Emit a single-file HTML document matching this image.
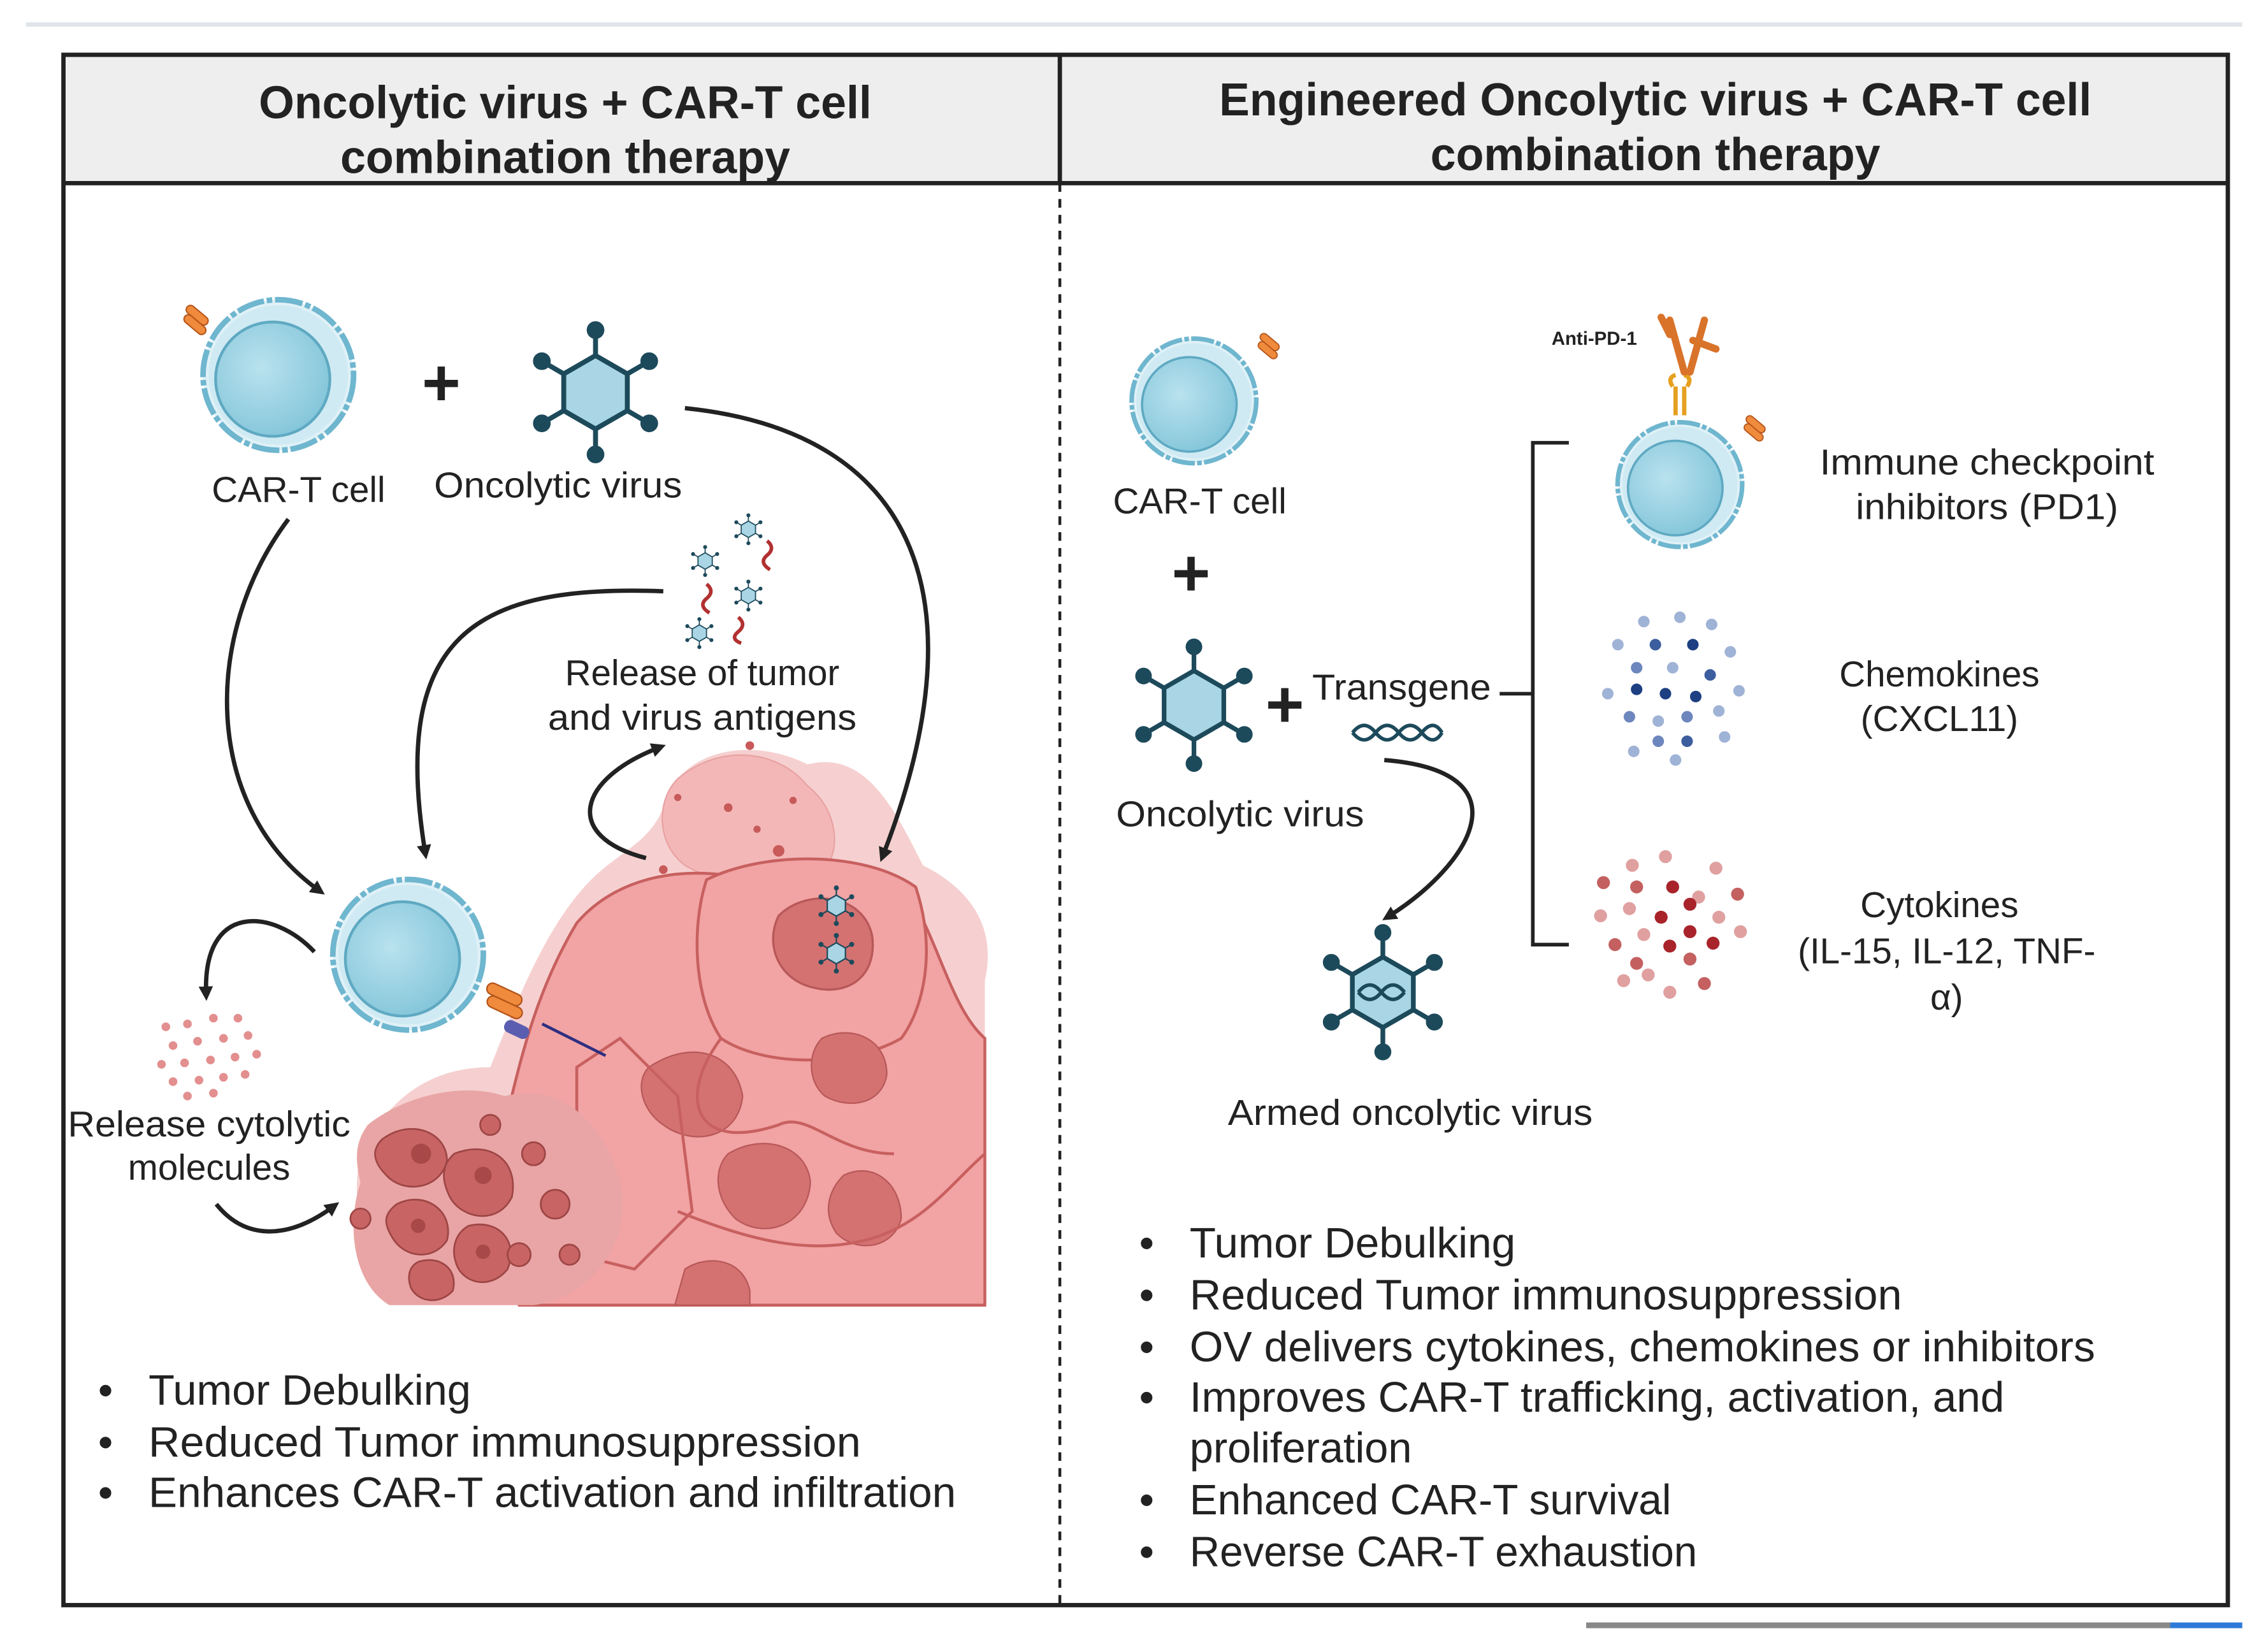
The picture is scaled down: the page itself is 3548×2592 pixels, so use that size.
<!DOCTYPE html>
<html><head><meta charset="utf-8"><style>html,body{margin:0;padding:0;background:#fff}svg{display:block}text{font-family:"Liberation Sans",sans-serif;fill:#222}</style></head>
<body>
<svg width="3548" height="2592" viewBox="0 0 1568 1145.5" xmlns="http://www.w3.org/2000/svg">
<defs>
<marker id="ah" markerWidth="10" markerHeight="10" refX="6" refY="5" orient="auto" markerUnits="userSpaceOnUse" viewBox="0 0 10 10"><path d="M0,0 L10,5 L0,10 z" fill="#222"/></marker>
<radialGradient id="cg" cx="0.4" cy="0.4" r="0.7"><stop offset="0" stop-color="#b9e2ee"/><stop offset="1" stop-color="#7fc3d8"/></radialGradient>
<symbol id="cell" viewBox="-60 -60 120 120" overflow="visible">
<circle r="54" fill="#dff1f7" stroke="#6fb6cf" stroke-width="4" stroke-dasharray="20 2 4 2"/>
<circle r="50" fill="#cfeaf3"/>
<circle cx="-4" cy="3" r="41" fill="url(#cg)" stroke="#5fa9c2" stroke-width="2"/>
</symbol>
<symbol id="virus" viewBox="-50 -50 100 100" overflow="visible">
<g stroke="#1d4a5b" stroke-width="3.5" fill="#1d4a5b">
<line x1="0" y1="-26" x2="0" y2="-44"/><line x1="0" y1="26" x2="0" y2="44"/>
<line x1="22.5" y1="-13" x2="38" y2="-22"/><line x1="22.5" y1="13" x2="38" y2="22"/>
<line x1="-22.5" y1="-13" x2="-38" y2="-22"/><line x1="-22.5" y1="13" x2="-38" y2="22"/>
<circle cx="0" cy="-44" r="4.5"/><circle cx="0" cy="44" r="4.5"/><circle cx="38" cy="-22" r="4.5"/><circle cx="38" cy="22" r="4.5"/><circle cx="-38" cy="-22" r="4.5"/><circle cx="-38" cy="22" r="4.5"/>
</g>
<polygon points="0,-26 22.5,-13 22.5,13 0,26 -22.5,13 -22.5,-13" fill="#a9d5e5" stroke="#1d4a5b" stroke-width="3.5"/>
</symbol>
<symbol id="rec" viewBox="-20 -20 40 40" overflow="visible">
<rect x="-14" y="-10" width="24" height="8" rx="4" fill="#f08a3c" stroke="#b3541a" stroke-width="1.2" transform="rotate(40)"/>
<rect x="-10" y="-2" width="24" height="8" rx="4" fill="#f08a3c" stroke="#b3541a" stroke-width="1.2" transform="rotate(40)"/>
</symbol>
</defs>

<line x1="18" y1="17" x2="1555" y2="17" stroke="#dfe5ea" stroke-width="3"/>
<line x1="1100" y1="1127" x2="1505" y2="1127" stroke="#888" stroke-width="4"/>
<line x1="1505" y1="1127" x2="1555" y2="1127" stroke="#2f7ad8" stroke-width="4"/>

<rect x="44" y="38" width="1501" height="89" fill="#eeeeee"/>
<rect x="44" y="38" width="1501" height="1075" fill="none" stroke="#222" stroke-width="3"/>
<line x1="44" y1="127" x2="1545" y2="127" stroke="#222" stroke-width="3"/>
<line x1="735" y1="38" x2="735" y2="127" stroke="#222" stroke-width="3"/>
<line x1="735" y1="127" x2="735" y2="1113" stroke="#222" stroke-width="2" stroke-dasharray="6 5"/>

<g font-weight="bold" font-size="32" text-anchor="middle">
<text x="392" y="82" textLength="425" lengthAdjust="spacingAndGlyphs">Oncolytic virus + CAR-T cell</text>
<text x="392" y="120" textLength="312" lengthAdjust="spacingAndGlyphs">combination therapy</text>
<text x="1148" y="80" textLength="605" lengthAdjust="spacingAndGlyphs">Engineered Oncolytic virus + CAR-T cell</text>
<text x="1148" y="118" textLength="312" lengthAdjust="spacingAndGlyphs">combination therapy</text>
</g>

<!-- tumor -->
<g>
<path d="M460,560 C470,520 520,510 560,530 C600,520 620,560 640,600 C680,620 690,650 683,680 L683,905 L300,905 C260,890 240,850 250,800 C270,760 300,740 340,740 C360,690 380,640 410,610 C430,590 450,585 460,560 z" fill="#f6d0d0"/>
<path d="M470,540 C500,515 540,520 560,545 C580,560 585,590 570,605 C545,620 500,615 475,600 C455,585 455,555 470,540 z" fill="#f3b7b7" stroke="#e9a2a2"/>
<path d="M400,640 C430,605 480,600 520,610 C560,600 600,590 630,620 C650,650 660,700 683,720 L683,905 L360,905 C340,870 330,820 350,780 C360,740 370,690 400,640 z" fill="#f2a3a4" stroke="#c7605f" stroke-width="2"/>
<path d="M490,610 C530,590 600,590 635,615 C650,660 640,700 625,720 C590,740 530,740 500,720 C480,690 480,640 490,610 z" fill="#f2a3a4" stroke="#c7605f" stroke-width="2"/>
<path d="M540,635 C560,615 600,620 605,650 C608,680 585,690 565,685 C540,680 530,655 540,635 z" fill="#d47272" stroke="#b85858" stroke-width="1.5"/>
<path d="M450,740 C480,720 510,730 515,760 C512,790 480,795 460,780 C445,770 440,750 450,740 z" fill="#d47272" stroke="#b85858"/>
<path d="M505,800 C530,785 560,795 562,820 C560,850 530,860 510,845 C495,830 495,810 505,800 z" fill="#d47272" stroke="#b85858"/>
<path d="M570,720 C590,710 615,720 615,745 C612,765 590,770 572,760 C560,750 560,730 570,720 z" fill="#d47272" stroke="#b85858"/>
<path d="M585,815 C605,805 625,820 625,845 C620,865 595,870 580,855 C570,840 575,825 585,815 z" fill="#d47272" stroke="#b85858"/>
<path d="M475,880 C490,870 515,872 520,895 L520,905 L468,905 z" fill="#d47272" stroke="#b85858"/>
<path d="M400,740 L430,720 L470,760 L480,840 L440,880 L400,870 z" fill="none" stroke="#c7605f" stroke-width="2"/>
<path d="M500,720 C470,760 480,800 540,780 C560,770 580,800 620,800" fill="none" stroke="#c7605f" stroke-width="2"/>
<path d="M470,840 C520,860 560,870 600,860 C640,850 660,820 683,800" fill="none" stroke="#c7605f" stroke-width="2"/>
<path d="M255,780 C280,760 320,750 350,760 C390,750 420,780 430,820 C440,860 410,900 370,905 L270,905 C245,890 240,850 250,820 C245,800 248,790 255,780 z" fill="#e9a5a5"/>
<g fill="#c86464" stroke="#9e4545" stroke-width="1.2">
<path d="M265,790 C285,775 310,785 310,805 C305,825 280,828 268,815 C258,805 258,797 265,790 z"/>
<path d="M315,800 C340,790 360,805 355,830 C345,850 320,845 312,830 C306,818 306,808 315,800 z"/>
<path d="M275,835 C295,825 315,840 310,860 C300,875 280,872 272,858 C266,848 266,842 275,835 z"/>
<path d="M325,850 C345,845 360,860 352,880 C340,895 320,890 316,875 C313,865 316,855 325,850 z"/>
<path d="M290,875 C305,870 318,880 314,895 C305,905 290,903 285,893 C282,885 284,878 290,875 z"/>
<circle cx="370" cy="800" r="8"/><circle cx="385" cy="835" r="10"/><circle cx="250" cy="845" r="7"/><circle cx="340" cy="780" r="7"/><circle cx="360" cy="870" r="8"/><circle cx="395" cy="870" r="7"/>
</g>
<g fill="#a84848"><circle cx="292" cy="800" r="7"/><circle cx="335" cy="815" r="6"/><circle cx="290" cy="850" r="5"/><circle cx="335" cy="868" r="5"/></g>
<g fill="#c85a5a"><circle cx="520" cy="517" r="3"/><circle cx="505" cy="560" r="3"/><circle cx="540" cy="590" r="4"/><circle cx="525" cy="575" r="2.5"/><circle cx="470" cy="553" r="2.5"/><circle cx="460" cy="603" r="3"/><circle cx="550" cy="555" r="2.5"/></g>
</g>
<use href="#virus" x="566" y="614" width="28" height="28"/>
<use href="#virus" x="566" y="647" width="28" height="28"/>

<use href="#cell" x="135" y="202" width="116" height="116"/>
<use href="#rec" x="120" y="208" width="30" height="30"/>
<text x="306" y="281" font-size="46" font-weight="bold" text-anchor="middle">+</text>
<use href="#virus" x="364" y="223" width="98" height="98"/>
<text x="207" y="348" font-size="25" text-anchor="middle">CAR-T cell</text>
<text x="387" y="345" font-size="25" text-anchor="middle" textLength="172" lengthAdjust="spacingAndGlyphs">Oncolytic virus</text>

<use href="#virus" x="508" y="356" width="22" height="22"/>
<use href="#virus" x="478" y="378" width="22" height="22"/>
<use href="#virus" x="508" y="402" width="22" height="22"/>
<use href="#virus" x="474" y="428" width="22" height="22"/>
<g fill="none" stroke="#b23030" stroke-width="2.5">
<path d="M532,375 q6,5 0,10 q-6,5 2,10"/><path d="M490,405 q6,5 0,10 q-6,5 2,10"/><path d="M512,428 q6,5 0,10 q-6,5 2,8"/>
</g>
<text x="487" y="475" font-size="25" text-anchor="middle">Release of tumor</text>
<text x="487" y="506" font-size="25" text-anchor="middle" textLength="214" lengthAdjust="spacingAndGlyphs">and virus antigens</text>

<use href="#cell" x="225" y="604" width="116" height="116"/>
<g transform="translate(338,684)">
<rect x="0" y="-4" width="26" height="8" rx="4" fill="#f08a3c" stroke="#b3541a" transform="rotate(25)"/>
<rect x="4" y="4" width="26" height="8" rx="4" fill="#f08a3c" stroke="#b3541a" transform="rotate(25)"/>
<rect x="22" y="14" width="18" height="9" rx="4" fill="#5b5db0" transform="rotate(25)"/>
<line x1="38" y1="26" x2="82" y2="48" stroke="#2d2f80" stroke-width="2"/>
</g>

<g fill="#e38f8f">
<circle cx="115" cy="712" r="3"/><circle cx="130" cy="710" r="3"/><circle cx="148" cy="706" r="3"/><circle cx="165" cy="706" r="3"/>
<circle cx="120" cy="725" r="3"/><circle cx="137" cy="722" r="3"/><circle cx="155" cy="720" r="3"/><circle cx="172" cy="718" r="3"/>
<circle cx="112" cy="738" r="3"/><circle cx="128" cy="737" r="3"/><circle cx="146" cy="735" r="3"/><circle cx="163" cy="733" r="3"/><circle cx="178" cy="731" r="3"/>
<circle cx="120" cy="750" r="3"/><circle cx="138" cy="749" r="3"/><circle cx="155" cy="747" r="3"/><circle cx="170" cy="745" r="3"/>
<circle cx="130" cy="760" r="3"/><circle cx="148" cy="758" r="3"/>
</g>
<text x="145" y="788" font-size="25" text-anchor="middle" textLength="196" lengthAdjust="spacingAndGlyphs">Release cytolytic</text>
<text x="145" y="818" font-size="25" text-anchor="middle">molecules</text>

<g fill="none" stroke="#222" stroke-width="3" marker-end="url(#ah)">
<path d="M200,360 C140,440 140,560 222,618"/>
<path d="M460,410 C330,405 270,440 295,592"/>
<path d="M475,283 C640,300 680,420 612,594"/>
<path d="M448,595 C390,580 400,540 458,518"/>
<path d="M218,660 C190,630 140,625 143,690"/>
<path d="M150,835 C170,860 200,860 232,836"/>
</g>

<g font-size="29.5">
<text x="68" y="974">•</text><text x="103" y="974">Tumor Debulking</text>
<text x="68" y="1010">•</text><text x="103" y="1010" textLength="494" lengthAdjust="spacingAndGlyphs">Reduced Tumor immunosuppression</text>
<text x="68" y="1045">•</text><text x="103" y="1045" textLength="560" lengthAdjust="spacingAndGlyphs">Enhances CAR-T activation and infiltration</text>
</g>

<!-- RIGHT PANEL -->
<use href="#cell" x="780" y="230" width="96" height="96"/>
<use href="#rec" x="866" y="228" width="26" height="26"/>
<text x="832" y="356" font-size="25" text-anchor="middle">CAR-T cell</text>
<text x="826" y="413" font-size="46" font-weight="bold" text-anchor="middle">+</text>
<use href="#virus" x="782" y="443" width="92" height="92"/>
<text x="891" y="504" font-size="46" font-weight="bold" text-anchor="middle">+</text>
<text x="910" y="485" font-size="25" textLength="124" lengthAdjust="spacingAndGlyphs">Transgene</text>
<g fill="none" stroke="#1d4a5b" stroke-width="2.5">
<path d="M938,508 q8,-10 16,0 t16,0 t16,0 t14,0"/><path d="M938,508 q8,10 16,0 t16,0 t16,0 t14,0"/>
</g>
<text x="860" y="573" font-size="25" text-anchor="middle" textLength="172" lengthAdjust="spacingAndGlyphs">Oncolytic virus</text>
<path d="M960,527 C1060,535 1020,600 962,636" fill="none" stroke="#222" stroke-width="3" marker-end="url(#ah)"/>
<use href="#virus" x="912" y="641" width="94" height="94"/>
<g fill="none" stroke="#1d4a5b" stroke-width="2.5"><path d="M942,688 q8,-10 16,0 t16,0"/><path d="M942,688 q8,10 16,0 t16,0"/></g>
<text x="978" y="780" font-size="25" text-anchor="middle" textLength="253" lengthAdjust="spacingAndGlyphs">Armed oncolytic virus</text>

<g stroke="#222" stroke-width="2.5" fill="none">
<line x1="1040" y1="481" x2="1063" y2="481"/>
<path d="M1088,307 H1063 V655 H1088"/>
</g>

<use href="#cell" x="1117" y="288" width="96" height="96"/>
<use href="#rec" x="1203" y="285" width="26" height="26"/>
<g stroke="#e6a020" stroke-width="3" fill="none"><path d="M1162,288 V268 M1168,288 V268 M1160,268 q-4,-6 2,-8 M1170,268 q4,-6 -2,-8"/></g>
<g stroke="#d9732a" stroke-width="5" stroke-linecap="round" fill="none"><path d="M1168,258 L1158,222 M1172,258 L1182,222 M1158,232 L1152,220 M1174,236 L1190,242"/></g>
<text x="1076" y="239" font-size="13" font-weight="bold">Anti-PD-1</text>
<text x="1378" y="329" font-size="25" text-anchor="middle" textLength="232" lengthAdjust="spacingAndGlyphs">Immune checkpoint</text>
<text x="1378" y="360" font-size="25" text-anchor="middle" textLength="182" lengthAdjust="spacingAndGlyphs">inhibitors (PD1)</text>

<g>
<circle cx="1140" cy="431" r="4" fill="#9fb3d6"/><circle cx="1165" cy="428" r="4" fill="#9fb3d6"/><circle cx="1187" cy="433" r="4" fill="#9fb3d6"/>
<circle cx="1122" cy="447" r="4" fill="#9fb3d6"/><circle cx="1148" cy="447" r="4" fill="#3c5e9e"/><circle cx="1174" cy="447" r="4" fill="#1e3f82"/><circle cx="1200" cy="452" r="4" fill="#9fb3d6"/>
<circle cx="1135" cy="463" r="4" fill="#6d86bd"/><circle cx="1160" cy="463" r="4" fill="#9fb3d6"/><circle cx="1186" cy="468" r="4" fill="#3c5e9e"/>
<circle cx="1115" cy="481" r="4" fill="#9fb3d6"/><circle cx="1135" cy="478" r="4" fill="#1e3f82"/><circle cx="1155" cy="481" r="4" fill="#1e3f82"/><circle cx="1176" cy="483" r="4" fill="#1e3f82"/><circle cx="1206" cy="479" r="4" fill="#9fb3d6"/>
<circle cx="1130" cy="497" r="4" fill="#6d86bd"/><circle cx="1150" cy="500" r="4" fill="#9fb3d6"/><circle cx="1170" cy="497" r="4" fill="#6d86bd"/><circle cx="1192" cy="493" r="4" fill="#9fb3d6"/>
<circle cx="1133" cy="521" r="4" fill="#9fb3d6"/><circle cx="1150" cy="514" r="4" fill="#6d86bd"/><circle cx="1170" cy="514" r="4" fill="#3c5e9e"/><circle cx="1196" cy="511" r="4" fill="#9fb3d6"/><circle cx="1162" cy="527" r="4" fill="#9fb3d6"/>
</g>
<text x="1345" y="476" font-size="25" text-anchor="middle">Chemokines</text>
<text x="1345" y="507" font-size="25" text-anchor="middle">(CXCL11)</text>

<g>
<circle cx="1132" cy="600" r="4.5" fill="#e0a0a0"/><circle cx="1155" cy="594" r="4.5" fill="#e0a0a0"/><circle cx="1190" cy="602" r="4.5" fill="#e0a0a0"/>
<circle cx="1112" cy="612" r="4.5" fill="#c46060"/><circle cx="1135" cy="615" r="4.5" fill="#c46060"/><circle cx="1160" cy="615" r="4.5" fill="#a8242a"/><circle cx="1178" cy="622" r="4.5" fill="#e0a0a0"/><circle cx="1205" cy="620" r="4.5" fill="#c46060"/>
<circle cx="1110" cy="635" r="4.5" fill="#e0a0a0"/><circle cx="1130" cy="630" r="4.5" fill="#e0a0a0"/><circle cx="1152" cy="636" r="4.5" fill="#a8242a"/><circle cx="1172" cy="627" r="4.5" fill="#a8242a"/><circle cx="1192" cy="636" r="4.5" fill="#e0a0a0"/>
<circle cx="1120" cy="655" r="4.5" fill="#c46060"/><circle cx="1140" cy="648" r="4.5" fill="#e0a0a0"/><circle cx="1158" cy="656" r="4.5" fill="#a8242a"/><circle cx="1172" cy="646" r="4.5" fill="#a8242a"/><circle cx="1188" cy="654" r="4.5" fill="#a8242a"/><circle cx="1207" cy="646" r="4.5" fill="#e0a0a0"/>
<circle cx="1135" cy="668" r="4.5" fill="#c46060"/><circle cx="1172" cy="665" r="4.5" fill="#c46060"/><circle cx="1126" cy="680" r="4.5" fill="#e0a0a0"/><circle cx="1143" cy="676" r="4.5" fill="#e0a0a0"/><circle cx="1158" cy="688" r="4.5" fill="#e0a0a0"/><circle cx="1182" cy="682" r="4.5" fill="#c46060"/>
</g>
<text x="1345" y="636" font-size="25" text-anchor="middle">Cytokines</text>
<text x="1350" y="668" font-size="25" text-anchor="middle">(IL-15, IL-12, TNF-</text>
<text x="1350" y="700" font-size="25" text-anchor="middle">α)</text>

<g font-size="29.5">
<text x="790" y="872">•</text><text x="825" y="872" textLength="226" lengthAdjust="spacingAndGlyphs">Tumor Debulking</text>
<text x="790" y="908">•</text><text x="825" y="908" textLength="494" lengthAdjust="spacingAndGlyphs">Reduced Tumor immunosuppression</text>
<text x="790" y="944">•</text><text x="825" y="944" textLength="628" lengthAdjust="spacingAndGlyphs">OV delivers cytokines, chemokines or inhibitors</text>
<text x="790" y="979">•</text><text x="825" y="979" textLength="565" lengthAdjust="spacingAndGlyphs">Improves CAR-T trafficking, activation, and</text>
<text x="825" y="1014">proliferation</text>
<text x="790" y="1050">•</text><text x="825" y="1050" textLength="334" lengthAdjust="spacingAndGlyphs">Enhanced CAR-T survival</text>
<text x="790" y="1086">•</text><text x="825" y="1086" textLength="352" lengthAdjust="spacingAndGlyphs">Reverse CAR-T exhaustion</text>
</g>
</svg>
</body></html>
